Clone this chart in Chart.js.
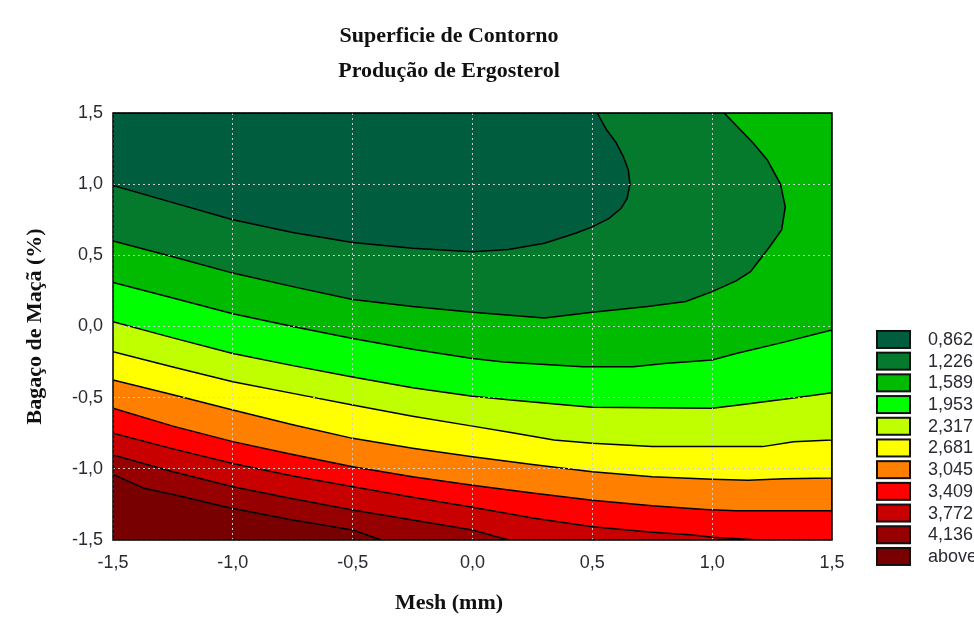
<!DOCTYPE html>
<html>
<head>
<meta charset="utf-8">
<script src="https://cdn.jsdelivr.net/npm/chart.js@4.4.0/dist/chart.umd.min.js"></script>
<style>
  html, body { margin: 0; padding: 0; background: #fff; overflow: hidden; }
  #wrap { width: 974px; height: 622px; }
</style>
</head>
<body>
<div id="wrap"><canvas id="contourChart"></canvas></div>
<script>
// legend levels, lowest first (last one = "above")
const levelLabels = ["0,862", "1,226", "1,589", "1,953", "2,317", "2,681", "3,045", "3,409", "3,772", "4,136", "above"];
const levelColors = ["#005e3f", "#067a2c", "#00bb00", "#00ff00", "#bfff00", "#ffff00", "#ff8000", "#ff0000", "#c80000", "#960000", "#780000"];

const xTickValues = [-1.5, -1.0, -0.5, 0.0, 0.5, 1.0, 1.5];
const xTickLabels = ["-1,5", "-1,0", "-0,5", "0,0", "0,5", "1,0", "1,5"];
const yTickValues = [-1.5, -1.0, -0.5, 0.0, 0.5, 1.0, 1.5];
const yTickLabels = ["-1,5", "-1,0", "-0,5", "0,0", "0,5", "1,0", "1,5"];

// contour lines, [mesh, bagaco], from the left edge to where they leave the plot
const contour1 = [[-1.5, 0.99], [-1.25, 0.87], [-1.0, 0.75], [-0.75, 0.66], [-0.5, 0.59], [-0.25, 0.55], [0.0, 0.525],
  [0.15, 0.54], [0.3, 0.585], [0.43, 0.655], [0.5, 0.70], [0.57, 0.76], [0.62, 0.83], [0.645, 0.9], [0.657, 1.0],
  [0.65, 1.1], [0.63, 1.19], [0.6, 1.29], [0.56, 1.38], [0.52, 1.5]];
const contour2 = [[-1.5, 0.60], [-1.25, 0.49], [-1.0, 0.375], [-0.75, 0.28], [-0.5, 0.19], [-0.25, 0.14], [0.0, 0.10],
  [0.3, 0.06], [0.5, 0.10], [0.73, 0.14], [0.89, 0.175], [1.0, 0.245], [1.1, 0.32], [1.16, 0.385], [1.24, 0.56],
  [1.29, 0.68], [1.305, 0.84], [1.285, 1.0], [1.23, 1.17], [1.17, 1.29], [1.05, 1.5]];
const contour3 = [[-1.5, 0.31], [-1.25, 0.20], [-1.0, 0.09], [-0.75, 0.0], [-0.5, -0.085], [-0.25, -0.16], [0.0, -0.225],
  [0.13, -0.25], [0.46, -0.283], [0.67, -0.283], [0.8, -0.26], [1.0, -0.236], [1.1, -0.19], [1.3, -0.11], [1.5, -0.025]];
const contour4 = [[-1.5, 0.034], [-1.25, -0.08], [-1.0, -0.19], [-0.75, -0.275], [-0.5, -0.355], [-0.25, -0.43], [0.0, -0.49],
  [0.16, -0.517], [0.39, -0.552], [0.5, -0.568], [1.0, -0.575], [1.12, -0.55], [1.34, -0.503], [1.5, -0.466]];
const contour5 = [[-1.5, -0.177], [-1.25, -0.285], [-1.0, -0.388], [-0.75, -0.47], [-0.5, -0.552], [-0.25, -0.63], [0.0, -0.70],
  [0.16, -0.745], [0.34, -0.797], [0.5, -0.82], [0.75, -0.844], [1.21, -0.844], [1.34, -0.81], [1.5, -0.797]];
const contour6 = [[-1.5, -0.376], [-1.25, -0.48], [-1.0, -0.587], [-0.75, -0.69], [-0.5, -0.786], [-0.25, -0.855], [0.0, -0.915],
  [0.25, -0.97], [0.5, -1.02], [0.75, -1.055], [1.0, -1.074], [1.15, -1.08], [1.3, -1.07], [1.5, -1.065]];
const contour7 = [[-1.5, -0.575], [-1.25, -0.70], [-1.0, -0.809], [-0.75, -0.90], [-0.5, -0.985], [-0.25, -1.055], [0.0, -1.115],
  [0.25, -1.17], [0.5, -1.22], [0.75, -1.26], [0.97, -1.285], [1.1, -1.295], [1.5, -1.295]];
const contour8 = [[-1.5, -0.75], [-1.25, -0.86], [-1.0, -0.962], [-0.75, -1.05], [-0.5, -1.126], [-0.25, -1.20], [0.0, -1.27],
  [0.25, -1.345], [0.5, -1.407], [0.75, -1.445], [0.92, -1.465], [1.0, -1.48], [1.2, -1.5]];
const contour9 = [[-1.5, -0.903], [-1.25, -1.02], [-1.0, -1.126], [-0.75, -1.21], [-0.5, -1.29], [-0.25, -1.36], [0.0, -1.43],
  [0.15, -1.5]];
const contour10 = [[-1.5, -1.04], [-1.37, -1.137], [-1.25, -1.18], [-1.0, -1.278], [-0.75, -1.36], [-0.5, -1.43], [-0.38, -1.5]];

const contours = [contour1, contour2, contour3, contour4, contour5, contour6, contour7, contour8, contour9, contour10];

const X_MIN = -1.5, X_MAX = 1.5, Y_MIN = -1.5, Y_MAX = 1.5;

// close a contour line round the upper-left side of the plot
function upperRegion(line) {
    const pts = line.map(([x, y]) => ({ x, y }));
    const last = line[line.length - 1];
    if (last[1] === Y_MIN) pts.push({ x: X_MAX, y: Y_MIN });
    if (last[1] !== Y_MAX) pts.push({ x: X_MAX, y: Y_MAX });
    pts.push({ x: X_MIN, y: Y_MAX });
    return pts;
}

const datasets = contours.map((line, i) => ({
    label: levelLabels[i],
    data: upperRegion(line),
    showLine: true,
    fill: "shape",
    backgroundColor: levelColors[i],
    borderColor: "#000",
    borderWidth: 1.5,
    pointRadius: 0,
    tension: 0
}));

const sansFont = "'Liberation Sans', Arial, sans-serif";
const serifFont = "'Liberation Serif', 'Times New Roman', serif";

// paint the "above" level under every region
const backgroundPlugin = {
    id: "aboveBackground",
    beforeDatasetsDraw(chart) {
        const { ctx, chartArea: a } = chart;
        ctx.save();
        ctx.fillStyle = levelColors[levelColors.length - 1];
        ctx.fillRect(a.left, a.top, a.right - a.left, a.bottom - a.top);
        ctx.restore();
    }
};

// black frame and the level legend on the right
const framePlugin = {
    id: "frameAndLegend",
    afterDraw(chart) {
        const { ctx, chartArea: a } = chart;
        ctx.save();
        ctx.strokeStyle = "#000";
        ctx.lineWidth = 1.5;
        ctx.strokeRect(a.left, a.top, a.right - a.left, a.bottom - a.top);

        const boxX = a.right + 45;
        const startY = a.top + 218;
        ctx.font = "18px " + sansFont;
        ctx.textBaseline = "middle";
        levelLabels.forEach((label, i) => {
            const y = startY + i * 21.7;
            ctx.fillStyle = levelColors[i];
            ctx.fillRect(boxX, y, 33, 17);
            ctx.lineWidth = 2;
            ctx.strokeStyle = "#111";
            ctx.strokeRect(boxX, y, 33, 17);
            ctx.fillStyle = "#2a2a33";
            ctx.fillText(label, boxX + 51, y + 9);
        });
        ctx.restore();
    }
};

const gridStyle = {
    z: 1,
    color: "rgba(210,210,210,0.95)",
    lineWidth: 1,
    drawTicks: false
};

new Chart(document.getElementById("contourChart"), {
    type: "scatter",
    data: { datasets },
    options: {
        responsive: true,
        maintainAspectRatio: false,
        animation: false,
        layout: { padding: { left: 0, right: 76, top: 0, bottom: 0 } },
        plugins: {
            legend: { display: false },
            tooltip: { enabled: false },
            title: {
                display: true,
                text: ["Superficie de Contorno", "Produção de Ergosterol"],
                color: "#111",
                font: { family: serifFont, size: 22, weight: "bold", lineHeight: 1.59 },
                padding: { top: 19, bottom: 24 }
            },
            subtitle: {
                display: true,
                position: "bottom",
                text: "Mesh (mm)",
                color: "#111",
                font: { family: serifFont, size: 22, weight: "bold", lineHeight: 1.2 },
                padding: { top: 8, bottom: 5 }
            }
        },
        scales: {
            x: {
                type: "linear",
                min: X_MIN,
                max: X_MAX,
                border: { display: false, dash: [2, 3] },
                grid: gridStyle,
                afterBuildTicks: (scale) => { scale.ticks = xTickValues.map(v => ({ value: v })); },
                afterFit: (scale) => { scale.height = 42.6; },
                ticks: {
                    padding: 12,
                    color: "#2a2a33",
                    font: { family: sansFont, size: 18 },
                    callback: (v) => xTickLabels[xTickValues.indexOf(v)]
                }
            },
            y: {
                type: "linear",
                min: Y_MIN,
                max: Y_MAX,
                border: { display: false, dash: [2, 3] },
                grid: gridStyle,
                afterBuildTicks: (scale) => { scale.ticks = yTickValues.map(v => ({ value: v })); },
                afterFit: (scale) => { scale.width = 113; },
                ticks: {
                    padding: 10,
                    color: "#2a2a33",
                    font: { family: sansFont, size: 18 },
                    callback: (v) => yTickLabels[yTickValues.indexOf(v)]
                },
                title: {
                    display: true,
                    text: "Bagaço de Maçã (%)",
                    color: "#111",
                    font: { family: serifFont, size: 22, weight: "bold", lineHeight: 1.2 },
                    padding: { top: 22, bottom: 0 }
                }
            },
            // empty axis that keeps room for the legend
            legendSpace: {
                type: "linear",
                position: "right",
                display: true,
                grid: { display: false },
                border: { display: false },
                ticks: { display: false },
                afterFit: (scale) => { scale.width = 66; }
            }
        }
    },
    plugins: [backgroundPlugin, framePlugin]
});
</script>
</body>
</html>
